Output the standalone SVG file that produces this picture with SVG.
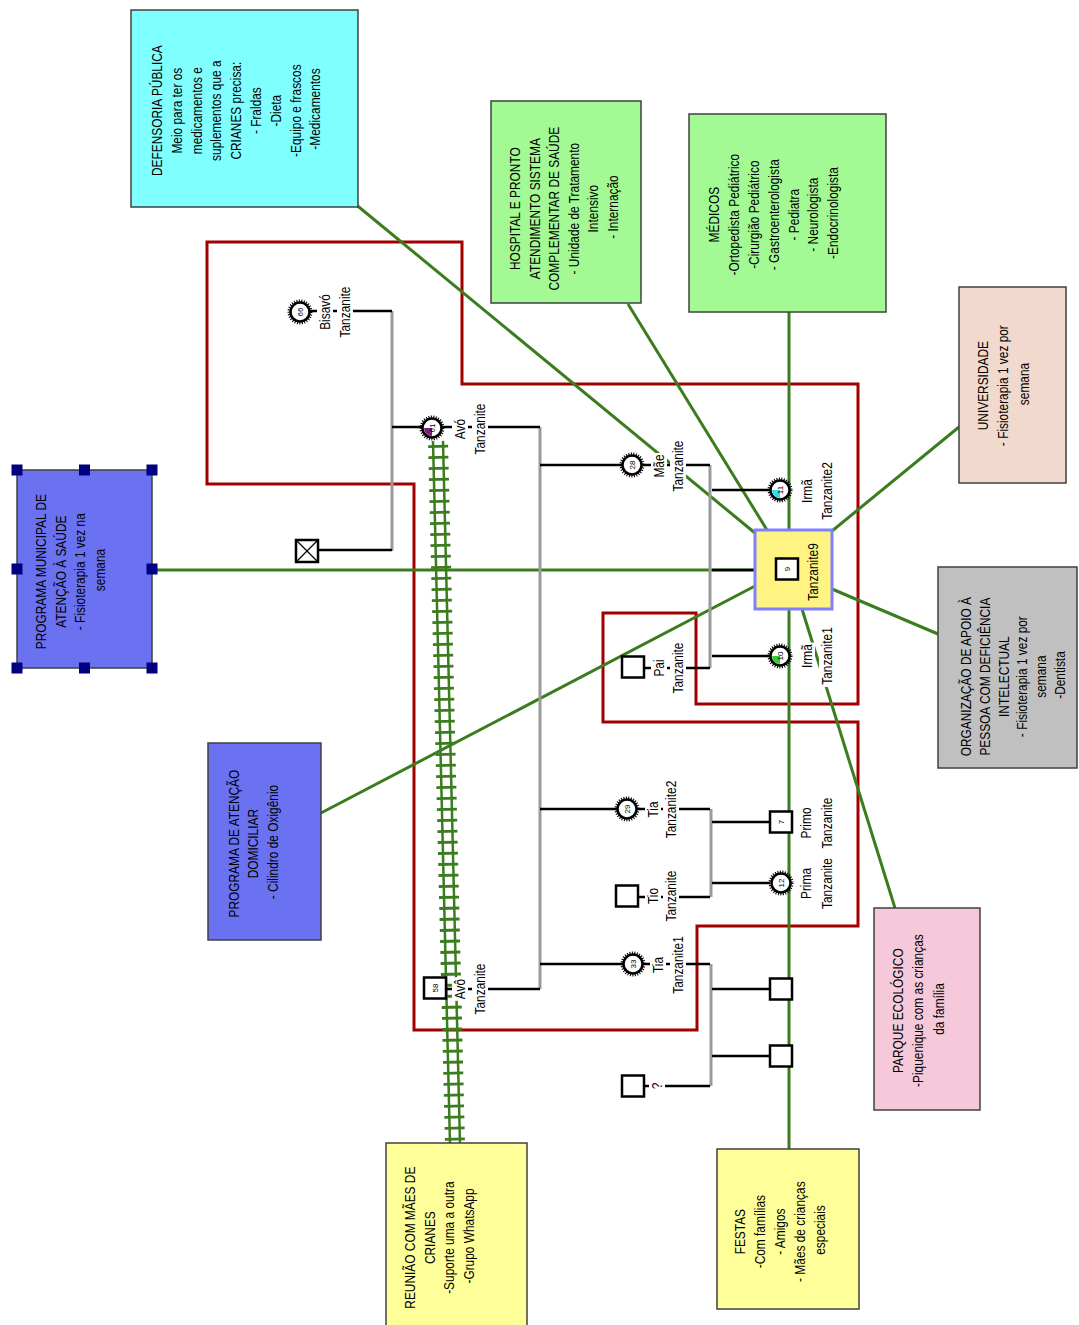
<svg xmlns="http://www.w3.org/2000/svg" xmlns:xlink="http://www.w3.org/1999/xlink" width="1079" height="1325" viewBox="0 0 1079 1325">
<style>
  .box{stroke:#404040;stroke-width:1.5}
  .t{font-family:"Liberation Sans",Arial,sans-serif;font-size:14px;fill:#000}
  .num{font-family:"Liberation Sans",Arial,sans-serif;font-size:8px;fill:#000}
  .eco{stroke:#3B7D1E;stroke-width:3;fill:none}
  .rail{stroke:#3B7D1E;stroke-width:2.5;fill:none}
  .ties{stroke:#3B7D1E;stroke-width:20;stroke-dasharray:2.8 8.2;fill:none}
  .kin{stroke:#000;stroke-width:2.5}
  .sib{stroke:#9A9A9A;stroke-width:3}
  .house{stroke:#A00000;stroke-width:3;fill:none}
  .m{fill:#fff;stroke:#000;stroke-width:2.5}
  .teeth{fill:none;stroke:#000;stroke-width:3;stroke-dasharray:1 1.4}
  .bg{fill:#fff}
  .handle{fill:#000080}
</style>
<defs>
  <g id="fem">
    <circle r="11" class="teeth"/>
    <circle r="9.5" class="m"/>
  </g>
  <rect id="male" x="-11" y="-10.5" width="22" height="21" class="m"/>
  <path id="wedge" d="M0,0 L-8,0 A8,8 0 0 0 0,8 Z"/>
</defs>

<rect width="1079" height="1325" fill="#fff"/>

<!-- household boundary -->
<g id="household">
  <polygon class="house" points="207,242 462,242 462,384 858,384 858,704 696,704 696,613 603,613 603,722 858,722 858,926 697,926 697,1030 414,1030 414,484 207,484"/>
</g>

<!-- links: social ties (green) and family lines -->
<g id="connectors">
  <line class="eco" x1="354" y1="203" x2="755" y2="533"/>
  <line class="eco" x1="628" y1="304" x2="767" y2="530"/>
  <line class="eco" x1="789" y1="312" x2="789" y2="530"/>
  <line class="eco" x1="959" y1="427" x2="832" y2="531"/>
  <line class="eco" x1="151" y1="570" x2="755" y2="570"/>
  <line class="eco" x1="832" y1="589" x2="938" y2="634"/>
  <line class="eco" x1="321" y1="813" x2="755" y2="586"/>
  <line class="eco" x1="802" y1="609" x2="895" y2="908"/>
  <line class="eco" x1="789" y1="609" x2="789" y2="1149"/>
  <!-- strong tie: double rail with cross bars -->
  <g transform="translate(438,441) rotate(-1.385)">
    <line class="ties" x1="0" y1="4" x2="0" y2="702"/>
    <line class="rail" x1="-5" y1="0" x2="-5" y2="702"/>
    <line class="rail" x1="5" y1="0" x2="5" y2="702"/>
  </g>

  <!-- couples / sibship bars -->
  <line class="sib" x1="392" y1="311" x2="392" y2="551"/>
  <line class="sib" x1="540" y1="427" x2="540" y2="989"/>
  <line class="sib" x1="710" y1="465" x2="710" y2="668"/>
  <line class="sib" x1="711" y1="809" x2="711" y2="897"/>
  <line class="sib" x1="711" y1="964" x2="711" y2="1086"/>

  <!-- individual links -->
  <line class="kin" x1="310" y1="311" x2="392" y2="311"/>
  <line class="kin" x1="319" y1="550" x2="392" y2="550"/>
  <line class="kin" x1="392" y1="427" x2="540" y2="427"/>
  <line class="kin" x1="446" y1="989" x2="540" y2="989"/>
  <line class="kin" x1="540" y1="465" x2="710" y2="465"/>
  <line class="kin" x1="644" y1="668" x2="710" y2="668"/>
  <line class="kin" x1="712" y1="490" x2="770" y2="490"/>
  <line class="kin" x1="712" y1="570" x2="755" y2="570"/>
  <line class="kin" x1="712" y1="656" x2="770" y2="656"/>
  <line class="kin" x1="540" y1="809" x2="710" y2="809"/>
  <line class="kin" x1="638" y1="897" x2="710" y2="897"/>
  <line class="kin" x1="712" y1="822" x2="770" y2="822"/>
  <line class="kin" x1="712" y1="883" x2="770" y2="883"/>
  <line class="kin" x1="540" y1="964" x2="710" y2="964"/>
  <line class="kin" x1="712" y1="989" x2="770" y2="989"/>
  <line class="kin" x1="712" y1="1056" x2="770" y2="1056"/>
  <line class="kin" x1="644" y1="1086" x2="710" y2="1086"/>
</g>

<!-- family members -->
<g id="bisavo-f">
  <use href="#fem" x="300" y="312"/>
  <text class="num" transform="translate(300,312) rotate(-90)" y="3" text-anchor="middle">66</text>
  <g transform="translate(325,312) rotate(-90)">
    <rect class="bg" x="-19.5" y="-8" width="39" height="16"/>
    <rect class="bg" x="-27.7" y="12" width="55.4" height="16"/>
    <text class="t" transform="scale(.85,1)" text-anchor="middle"><tspan x="0" y="5">Bisavó</tspan><tspan x="0" y="25">Tanzanite</tspan></text>
  </g>
</g>
<g id="bisavo-m">
  <rect x="296" y="540" width="22" height="22" class="m"/>
  <path d="M297,541 L317,561 M317,541 L297,561" stroke="#000" stroke-width="1.2"/>
</g>
<g id="avo-f">
  <use href="#fem" x="432" y="428"/>
  <use href="#wedge" x="432" y="428" fill="#7B1F7B"/>
  <text class="num" transform="translate(432,428) rotate(-90)" y="3" text-anchor="middle">61</text>
  <g transform="translate(460,429) rotate(-90)">
    <rect class="bg" x="-11.8" y="-8" width="23.6" height="16"/>
    <rect class="bg" x="-27.7" y="12" width="55.4" height="16"/>
    <text class="t" transform="scale(.85,1)" text-anchor="middle"><tspan x="0" y="5">Avó</tspan><tspan x="0" y="25">Tanzanite</tspan></text>
  </g>
</g>
<g id="avo-m">
  <use href="#male" x="435" y="988"/>
  <text class="num" transform="translate(435,988) rotate(-90)" y="3" text-anchor="middle">58</text>
  <g transform="translate(460,989) rotate(-90)">
    <rect class="bg" x="-11.8" y="-8" width="23.6" height="16"/>
    <rect class="bg" x="-27.7" y="12" width="55.4" height="16"/>
    <text class="t" transform="scale(.85,1)" text-anchor="middle"><tspan x="0" y="5">Avô</tspan><tspan x="0" y="25">Tanzanite</tspan></text>
  </g>
</g>
<g id="mae">
  <use href="#fem" x="632" y="465"/>
  <text class="num" transform="translate(632,465) rotate(-90)" y="3" text-anchor="middle">28</text>
  <g transform="translate(659,466) rotate(-90)">
    <rect class="bg" x="-13" y="-8" width="26" height="16"/>
    <rect class="bg" x="-27.7" y="11" width="55.4" height="16"/>
    <text class="t" transform="scale(.85,1)" text-anchor="middle"><tspan x="0" y="5">Mãe</tspan><tspan x="0" y="24">Tanzanite</tspan></text>
  </g>
</g>
<g id="pai">
  <use href="#male" x="633" y="667"/>
  <g transform="translate(659,668) rotate(-90)">
    <rect class="bg" x="-10" y="-8" width="20" height="16"/>
    <rect class="bg" x="-27.7" y="11" width="55.4" height="16"/>
    <text class="t" transform="scale(.85,1)" text-anchor="middle"><tspan x="0" y="5">Pai</tspan><tspan x="0" y="24">Tanzanite</tspan></text>
  </g>
</g>
<g id="irma2">
  <use href="#fem" x="780" y="490"/>
  <use href="#wedge" x="780" y="490" fill="#33DDEE"/>
  <text class="num" transform="translate(780,490) rotate(-90)" y="3" text-anchor="middle">11</text>
  <g transform="translate(807,491) rotate(-90)">
    <text class="t" transform="scale(.85,1)" text-anchor="middle"><tspan x="0" y="5">Irmã</tspan><tspan x="0" y="25">Tanzanite2</tspan></text>
  </g>
</g>
<g id="ego">
  <rect x="755" y="530" width="77" height="79" fill="#FFF482" stroke="#8080FF" stroke-width="3"/>
  <use href="#male" x="787" y="569"/>
  <text class="num" transform="translate(787,569) rotate(-90)" y="3" text-anchor="middle">9</text>
  <text class="t" transform="translate(813,572) rotate(-90) scale(.85,1)" y="5" text-anchor="middle">Tanzanite9</text>
</g>
<g id="irma1">
  <use href="#fem" x="780" y="656"/>
  <use href="#wedge" x="780" y="656" fill="#33CC33"/>
  <text class="num" transform="translate(780,656) rotate(-90)" y="3" text-anchor="middle">10</text>
  <g transform="translate(807,656) rotate(-90)">
    <rect class="bg" x="-13.4" y="-8" width="26.8" height="16"/>
    <rect class="bg" x="-31" y="12" width="62" height="16"/>
    <text class="t" transform="scale(.85,1)" text-anchor="middle"><tspan x="0" y="5">Irmã</tspan><tspan x="0" y="25">Tanzanite1</tspan></text>
  </g>
</g>
<g id="tia2">
  <use href="#fem" x="627" y="809"/>
  <text class="num" transform="translate(627,809) rotate(-90)" y="3" text-anchor="middle">29</text>
  <g transform="translate(653,809.5) rotate(-90)">
    <rect class="bg" x="-9.8" y="-8" width="19.6" height="16"/>
    <rect class="bg" x="-31" y="10" width="62" height="16"/>
    <text class="t" transform="scale(.85,1)" text-anchor="middle"><tspan x="0" y="5">Tia</tspan><tspan x="0" y="23">Tanzanite2</tspan></text>
  </g>
</g>
<g id="tio">
  <use href="#male" x="627" y="896"/>
  <g transform="translate(653,896) rotate(-90)">
    <rect class="bg" x="-9.8" y="-8" width="19.6" height="16"/>
    <rect class="bg" x="-27.7" y="10" width="55.4" height="16"/>
    <text class="t" transform="scale(.85,1)" text-anchor="middle"><tspan x="0" y="5">Tio</tspan><tspan x="0" y="23">Tanzanite</tspan></text>
  </g>
</g>
<g id="primo">
  <use href="#male" x="781" y="822"/>
  <text class="num" transform="translate(781,822) rotate(-90)" y="3" text-anchor="middle">7</text>
  <text class="t" transform="translate(806,823) rotate(-90) scale(.85,1)" text-anchor="middle"><tspan x="0" y="5">Primo</tspan><tspan x="0" y="26">Tanzanite</tspan></text>
</g>
<g id="prima">
  <use href="#fem" x="781" y="883"/>
  <text class="num" transform="translate(781,883) rotate(-90)" y="3" text-anchor="middle">12</text>
  <text class="t" transform="translate(806,883.5) rotate(-90) scale(.85,1)" text-anchor="middle"><tspan x="0" y="5">Prima</tspan><tspan x="0" y="26">Tanzanite</tspan></text>
</g>
<g id="tia1">
  <use href="#fem" x="633" y="964"/>
  <text class="num" transform="translate(633,964) rotate(-90)" y="3" text-anchor="middle">33</text>
  <g transform="translate(658,965) rotate(-90)">
    <rect class="bg" x="-9.8" y="-8" width="19.6" height="16"/>
    <rect class="bg" x="-31" y="12" width="62" height="16"/>
    <text class="t" transform="scale(.85,1)" text-anchor="middle"><tspan x="0" y="5">Tia</tspan><tspan x="0" y="25">Tanzanite1</tspan></text>
  </g>
</g>
<g id="filho1"><use href="#male" x="781" y="989"/></g>
<g id="filho2"><use href="#male" x="781" y="1056"/></g>
<g id="conjuge-tia1">
  <use href="#male" x="633" y="1086"/>
  <g transform="translate(657,1086) rotate(-90)">
    <rect class="bg" x="-5" y="-8" width="10" height="16"/>
    <text class="t" transform="scale(.85,1)" y="5" text-anchor="middle">?</text>
  </g>
</g>

<!-- community resources -->
<g id="defensoria">
  <rect class="box" x="131" y="10" width="227" height="197" fill="#80FFFF"/>
  <text class="t" transform="translate(157,109) rotate(-90) scale(.85,1)" text-anchor="middle">
    <tspan x="0" y="5">DEFENSORIA PÚBLICA</tspan>
    <tspan x="0" y="24.8">Meio para ter os</tspan>
    <tspan x="0" y="44.6">medicamentos e</tspan>
    <tspan x="0" y="64.4">suplementos que a</tspan>
    <tspan x="0" y="84.2">CRIANES precisa:</tspan>
    <tspan x="0" y="104">- Fraldas</tspan>
    <tspan x="0" y="123.8">-Dieta</tspan>
    <tspan x="0" y="143.6">-Equipo e frascos</tspan>
    <tspan x="0" y="163.4">-Medicamentos</tspan>
  </text>
</g>
<g id="hospital">
  <rect class="box" x="491" y="101" width="150" height="202" fill="#A3F993"/>
  <text class="t" transform="translate(515,207) rotate(-90) scale(.85,1)" text-anchor="middle">
    <tspan x="0" y="5">HOSPITAL E PRONTO</tspan>
    <tspan x="0" y="24.6">ATENDIMENTO SISTEMA</tspan>
    <tspan x="0" y="44.2">COMPLEMENTAR DE SAÚDE</tspan>
    <tspan x="0" y="63.8">- Unidade de Tratamento</tspan>
    <tspan x="0" y="83.4">Intensivo</tspan>
    <tspan x="0" y="103">- Internação</tspan>
  </text>
</g>
<g id="medicos">
  <rect class="box" x="689" y="114" width="197" height="198" fill="#A3F993"/>
  <text class="t" transform="translate(714,213) rotate(-90) scale(.85,1)" text-anchor="middle">
    <tspan x="0" y="5">MÉDICOS</tspan>
    <tspan x="0" y="24.9">-Ortopedista Pediátrico</tspan>
    <tspan x="0" y="44.8">-Cirurgião Pediátrico</tspan>
    <tspan x="0" y="64.7">- Gastroenterologista</tspan>
    <tspan x="0" y="84.6">- Pediatra</tspan>
    <tspan x="0" y="104.5">- Neurologista</tspan>
    <tspan x="0" y="124.4">-Endocrinologista</tspan>
  </text>
</g>
<g id="universidade">
  <rect class="box" x="959" y="287" width="107" height="196" fill="#F2D9CD"/>
  <text class="t" transform="translate(983,384) rotate(-90) scale(.85,1)" text-anchor="middle">
    <tspan x="0" y="5">UNIVERSIDADE</tspan>
    <tspan x="0" y="25.5">- Fisioterapia 1 vez por</tspan>
    <tspan x="0" y="46">semana</tspan>
  </text>
</g>
<g id="programa-municipal">
  <rect class="box" x="17" y="470" width="135" height="198" fill="#6B72F2"/>
  <text class="t" transform="translate(41,570) rotate(-90) scale(.85,1)" text-anchor="middle">
    <tspan x="0" y="5">PROGRAMA MUNICIPAL DE</tspan>
    <tspan x="0" y="24.7">ATENÇÃO À SAÚDE</tspan>
    <tspan x="0" y="44.4">- Fisioterapia 1 vez na</tspan>
    <tspan x="0" y="64.1">semana</tspan>
  </text>
  <rect class="handle" x="11.5" y="464.5" width="11" height="11"/>
  <rect class="handle" x="79" y="464.5" width="11" height="11"/>
  <rect class="handle" x="146.5" y="464.5" width="11" height="11"/>
  <rect class="handle" x="11.5" y="563.5" width="11" height="11"/>
  <rect class="handle" x="146.5" y="563.5" width="11" height="11"/>
  <rect class="handle" x="11.5" y="662.5" width="11" height="11"/>
  <rect class="handle" x="79" y="662.5" width="11" height="11"/>
  <rect class="handle" x="146.5" y="662.5" width="11" height="11"/>
</g>
<g id="organizacao">
  <rect class="box" x="938" y="567" width="139" height="201" fill="#C0C0C0"/>
  <text class="t" transform="translate(966,675) rotate(-90) scale(.85,1)" text-anchor="middle">
    <tspan x="0" y="5">ORGANIZAÇÃO DE APOIO À</tspan>
    <tspan x="0" y="23.8">PESSOA COM DEFICIÊNCIA</tspan>
    <tspan x="0" y="42.6">INTELECTUAL</tspan>
    <tspan x="0" y="61.4">- Fisioterapia 1 vez por</tspan>
    <tspan x="0" y="80.2">semana</tspan>
    <tspan x="0" y="99">-Dentista</tspan>
  </text>
</g>
<g id="atencao-domiciliar">
  <rect class="box" x="208" y="743" width="113" height="197" fill="#6B72F2"/>
  <text class="t" transform="translate(234,842) rotate(-90) scale(.85,1)" text-anchor="middle">
    <tspan x="0" y="5">PROGRAMA DE ATENÇÃO</tspan>
    <tspan x="0" y="24.5">DOMICILIAR</tspan>
    <tspan x="0" y="44">- Cilindro de Oxigênio</tspan>
  </text>
</g>
<g id="parque">
  <rect class="box" x="874" y="908" width="106" height="202" fill="#F5C9DA"/>
  <text class="t" transform="translate(898,1009) rotate(-90) scale(.85,1)" text-anchor="middle">
    <tspan x="0" y="5">PARQUE ECOLÓGICO</tspan>
    <tspan x="0" y="25.5">-Piquenique com as crianças</tspan>
    <tspan x="0" y="46">da família</tspan>
  </text>
</g>
<g id="reuniao">
  <rect class="box" x="386" y="1143" width="141" height="190" fill="#FFFF99"/>
  <text class="t" transform="translate(410,1236) rotate(-90) scale(.85,1)" text-anchor="middle">
    <tspan x="0" y="5">REUNIÃO COM MÃES DE</tspan>
    <tspan x="0" y="24.7">CRIANES</tspan>
    <tspan x="0" y="44.4">-Suporte uma a outra</tspan>
    <tspan x="0" y="64.1">-Grupo WhatsApp</tspan>
  </text>
</g>
<g id="festas">
  <rect class="box" x="717" y="1149" width="142" height="160" fill="#FFFF99"/>
  <text class="t" transform="translate(740,1230) rotate(-90) scale(.85,1)" text-anchor="middle">
    <tspan x="0" y="5">FESTAS</tspan>
    <tspan x="0" y="24.9">-Com famílias</tspan>
    <tspan x="0" y="44.8">- Amigos</tspan>
    <tspan x="0" y="64.7">- Mães de crianças</tspan>
    <tspan x="0" y="84.6">especiais</tspan>
  </text>
</g>
</svg>
